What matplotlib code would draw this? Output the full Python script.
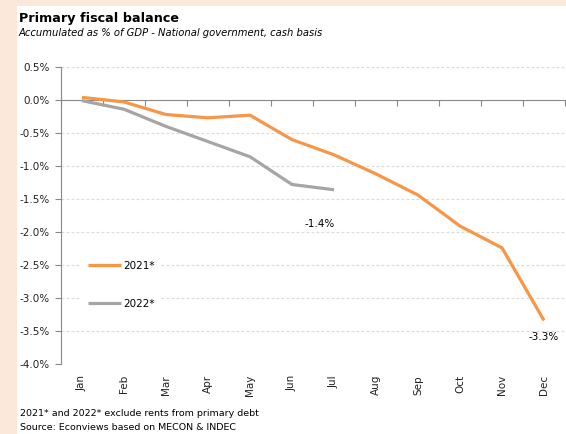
import numpy as np
import matplotlib.pyplot as plt
from matplotlib.patches import Rectangle

months = ['Jan', 'Feb', 'Mar', 'Apr', 'May', 'Jun', 'Jul', 'Aug', 'Sep', 'Oct', 'Nov', 'Dec']
bal_2021 = [0.04, -0.03, -0.22, -0.27, -0.23, -0.60, -0.83, -1.12, -1.44, -1.91, -2.24, -3.34]
bal_2022 = [-0.01, -0.14, -0.40, -0.63, -0.86, -1.28, -1.36]

orange = '#F79646'
grey = '#A5A5A5'
peach = '#FCE8DA'

plt.rcParams['font.family'] = 'DejaVu Sans'

fig = plt.figure(figsize=(5.66, 4.34), dpi=100, facecolor=peach)
# white panel, peach strip left and top
fig.patches.append(Rectangle((17 / 566, 0), 1, 1 - 6 / 434, transform=fig.transFigure,
                             facecolor='white', edgecolor='none', zorder=-10))

ax = fig.add_axes([61 / 566, 1 - 364 / 434, 504 / 566, 297 / 434])
ax.set_facecolor('none')

x = np.arange(len(months))
l1, = ax.plot(x, bal_2021, color=orange, lw=2.3, solid_capstyle='butt', label='2021*', zorder=3)
l2, = ax.plot(x[:len(bal_2022)], bal_2022, color=grey, lw=2.3, solid_capstyle='butt', label='2022*', zorder=3)

ax.set_xlim(-0.5, len(months) - 0.5)
ax.set_ylim(-4.0, 0.5)
yt = np.arange(-4.0, 0.51, 0.5)
ax.set_yticks(yt)
ax.set_yticklabels(['%.1f%%' % v for v in yt], fontsize=7.5, color='#222222')
ax.tick_params(axis='y', length=4, color='#888888', pad=4)
for v in yt:
    if abs(v) > 1e-9:
        ax.axhline(v, color='#DADADA', lw=0.8, ls=(0, (2.5, 2)), zorder=1)

for s in ['top', 'right']:
    ax.spines[s].set_visible(False)
ax.spines['left'].set_color('#888888')
ax.spines['bottom'].set_position(('data', 0))
ax.spines['bottom'].set_color('#888888')
ax.set_xticks(np.arange(-0.5, len(months) - 0.4, 1.0))
ax.set_xticklabels([])
ax.tick_params(axis='x', length=4, color='#888888', direction='out')

# month labels along the bottom
sec = ax.secondary_xaxis('bottom')
sec.spines['bottom'].set_visible(False)
sec.set_xticks(x)
sec.set_xticklabels(months, rotation=90, fontsize=7.5, color='#222222')
sec.tick_params(length=0, pad=8)

ax.annotate('%.1f%%' % bal_2022[-1], (x[len(bal_2022) - 1], bal_2022[-1]),
            xytext=(-21, -25), textcoords='offset points', fontsize=7.5, ha='left', va='center')
ax.annotate('%.1f%%' % bal_2021[-1], (x[-1], bal_2021[-1]),
            xytext=(-11, -12), textcoords='offset points', fontsize=7.5, ha='left', va='center')

leg = ax.legend(handles=[l1, l2], loc='upper left', bbox_to_anchor=(0.03, 0.386),
                frameon=True, facecolor='white', edgecolor='none', framealpha=1,
                fontsize=7.5, handlelength=3.2, handletextpad=0.2, labelspacing=2.7,
                borderpad=0.6)

fig.text(19 / 566, 1 - 12 / 434, 'Primary fiscal balance', fontsize=9.2, fontweight='bold', va='top')
fig.text(19 / 566, 1 - 28 / 434, 'Accumulated as % of GDP - National government, cash basis',
         fontsize=7.2, style='italic', va='top')
fig.text(20 / 566, 1 - 413 / 434, '2021* and 2022* exclude rents from primary debt', fontsize=6.8, va='center')
fig.text(20 / 566, 1 - 428 / 434, 'Source: Econviews based on MECON & INDEC', fontsize=6.8, va='center')

fig.savefig('out.png', dpi=100, facecolor=peach)
